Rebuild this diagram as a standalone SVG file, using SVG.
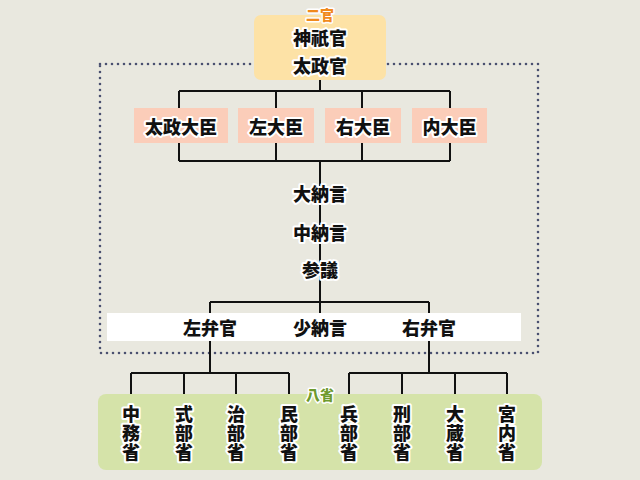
<svg xmlns="http://www.w3.org/2000/svg" width="640" height="480" viewBox="0 0 640 480">
<style>
text{font-family:"Noto Sans CJK JP","Noto Sans CJK SC",sans-serif;font-weight:900;text-anchor:middle;dominant-baseline:central;paint-order:stroke;stroke:#fff;stroke-linejoin:round}
.t{font-size:18px;fill:#111;stroke-width:4px}
.v{font-size:18px;fill:#111;stroke-width:4px;writing-mode:vertical-rl;letter-spacing:1px}
.lbl{font-size:14px;stroke-width:3px}
.ln{fill:none;stroke:#111;stroke-width:2}
.min{fill:#fbcdb9}
</style>
<rect width="640" height="480" fill="#e9e8df"/>
<g id="frame">
<rect x="100" y="64" width="438" height="289" fill="none" stroke="#4a5070" stroke-width="2.6" stroke-linecap="round" stroke-dasharray="0 6"/>
</g>
<g id="top">
<rect x="254" y="15" width="132" height="65" rx="7" fill="#fde2a6"/>
<text class="lbl" x="320" y="14" fill="#f08a1e">二官</text>
<text class="t" x="320" y="37">神祇官</text>
<text class="t" x="320" y="65">太政官</text>
</g>
<g id="connectors">
<path class="ln" d="M320 80V91M179 91H450M179 91V108M276 91V108M362 91V108M450 91V108"/>
<path class="ln" d="M179 143V161M276 143V161M362 143V161M450 143V161M179 161H450M320 161V313"/>
<path class="ln" d="M210 302H429M210 302V313M429 302V313"/>
<path class="ln" d="M210 341V373M131 373H289M131 373V397M184 373V397M236 373V397M289 373V397"/>
<path class="ln" d="M429 341V373M349 373H507M349 373V397M402 373V397M455 373V397M507 373V397"/>
</g>
<g id="ministers">
<g id="n-daijo"><rect class="min" x="134" y="108" width="94" height="35"/><text class="t" x="181" y="126">太政大臣</text></g>
<g id="n-sa"><rect class="min" x="238" y="108" width="76" height="35"/><text class="t" x="276" y="126">左大臣</text></g>
<g id="n-u"><rect class="min" x="325" y="108" width="76" height="35"/><text class="t" x="363" y="126">右大臣</text></g>
<g id="n-nai"><rect class="min" x="412" y="108" width="75" height="35"/><text class="t" x="449.5" y="126">内大臣</text></g>
</g>
<g id="n-dainagon"><text class="t" x="320" y="193">大納言</text></g>
<g id="n-chunagon"><text class="t" x="320" y="232">中納言</text></g>
<g id="n-sangi"><text class="t" x="320" y="269">参議</text></g>
<g id="band">
<rect x="107" y="313" width="414" height="28" fill="#fff"/>
<g id="n-sabenkan"><text class="t" x="210" y="327">左弁官</text></g>
<g id="n-shonagon"><text class="t" x="320" y="327">少納言</text></g>
<g id="n-ubenkan"><text class="t" x="429" y="327">右弁官</text></g>
</g>
<g id="hassho">
<rect x="98" y="394" width="444" height="76" rx="8" fill="#d5e3a9"/>
<text class="lbl" x="320" y="394" fill="#6e9a2e">八省</text>
</g>
<g id="ministries">
<text class="v" id="n-nakatsukasa" x="131" y="434">中務省</text>
<text class="v" id="n-shikibu" x="184" y="434">式部省</text>
<text class="v" id="n-jibu" x="236" y="434">治部省</text>
<text class="v" id="n-minbu" x="289" y="434">民部省</text>
<text class="v" id="n-hyobu" x="349" y="434">兵部省</text>
<text class="v" id="n-gyobu" x="402" y="434">刑部省</text>
<text class="v" id="n-okura" x="455" y="434">大蔵省</text>
<text class="v" id="n-kunai" x="507" y="434">宮内省</text>
</g>
</svg>
